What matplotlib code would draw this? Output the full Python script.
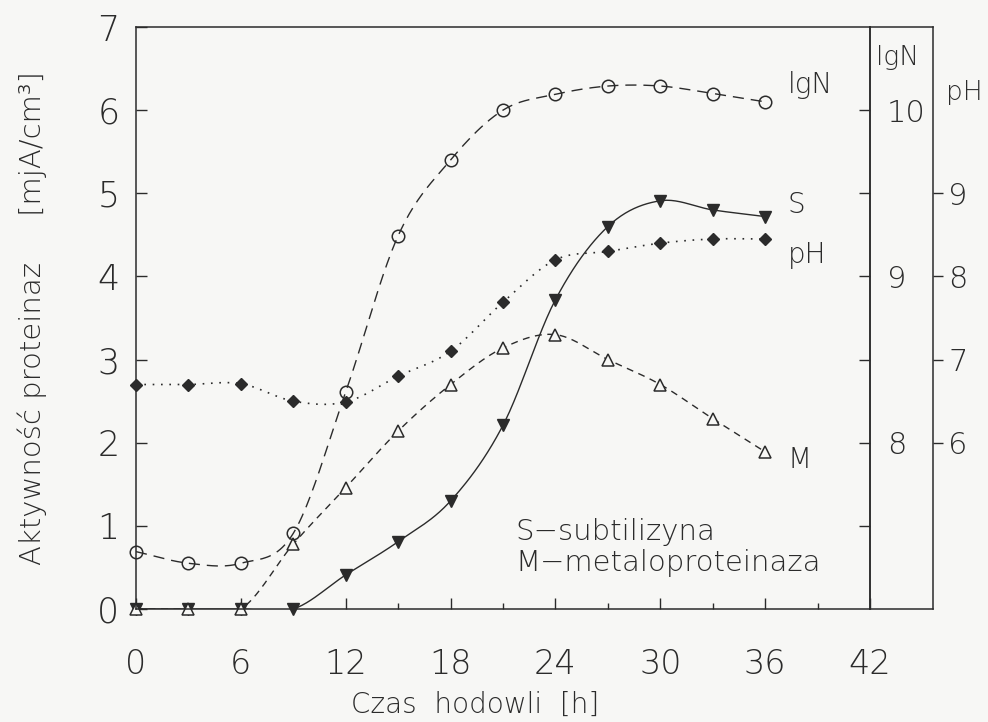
import numpy as np
import matplotlib
matplotlib.use("Agg")
import matplotlib.pyplot as plt
from matplotlib.ticker import MultipleLocator, FixedLocator

plt.rcParams["font.family"] = ["DejaVu Sans"]
plt.rcParams["font.weight"] = "light"
plt.rcParams["axes.labelweight"] = "light"

# czas hodowli [h]
hours = [0, 3, 6, 9, 12, 15, 18, 21, 24, 27, 30, 33, 36]
# aktywnosc proteinaz [mjA/cm3]
subtilizyna = [0, 0, 0, 0, 0.41, 0.81, 1.30, 2.21, 3.72, 4.60, 4.91, 4.80, 4.72]
metaloproteinaza = [0, 0, 0, 0.78, 1.46, 2.14, 2.70, 3.14, 3.30, 3.00, 2.70, 2.29, 1.89]
# lgN
lgN = [7.345, 7.275, 7.275, 7.455, 8.305, 9.245, 9.70, 10.0, 10.095, 10.145, 10.145, 10.1, 10.05]
# pH
pH = [6.70, 6.70, 6.71, 6.50, 6.49, 6.80, 7.10, 7.69, 8.20, 8.30, 8.40, 8.45, 8.45]

ink = "#2b2b2b"
bg = "#f7f7f5"


def smooth(x, y, n=24):
    # catmull-rom through the measured points, just for drawing the curve
    x = np.asarray(x, float)
    y = np.asarray(y, float)
    m = np.gradient(y, x)
    m[1:-1] = (y[2:] - y[:-2]) / (x[2:] - x[:-2])
    xs, ys = [], []
    for i in range(len(x) - 1):
        h = x[i + 1] - x[i]
        t = np.linspace(0, 1, n, endpoint=False)
        h00 = 2 * t**3 - 3 * t**2 + 1
        h10 = t**3 - 2 * t**2 + t
        h01 = -2 * t**3 + 3 * t**2
        h11 = t**3 - t**2
        xs.append(x[i] + t * h)
        ys.append(h00 * y[i] + h10 * h * m[i] + h01 * y[i + 1] + h11 * h * m[i + 1])
    xs.append([x[-1]])
    ys.append([y[-1]])
    return np.concatenate(xs), np.concatenate(ys)


fig = plt.figure(figsize=(9.88, 7.22), dpi=100, facecolor=bg)
ax = fig.add_axes([136 / 988, 1 - 609 / 722, 734 / 988, 582 / 722])
ax.set_facecolor("none")
ax_n = ax.twinx()
ax_ph = ax.twinx()

ax.set_xlim(0, 42)
ax.set_ylim(0, 7)
ax_n.set_ylim(7, 10.5)
ax_ph.set_ylim(4, 11)

lw = 1.0
ms = 8

# subtilizyna
sx, sy = smooth(hours, subtilizyna)
ax.plot(sx, sy, color=ink, lw=lw, ls="-")
ax.plot(hours, subtilizyna, ls="none", marker="v", ms=ms, color=ink, clip_on=False)

# metaloproteinaza
mx, my = smooth(hours, metaloproteinaza)
ax.plot(mx, my, color=ink, lw=lw, ls=(0, (5, 4)))
ax.plot(hours, metaloproteinaza, ls="none", marker="^", ms=ms, mfc=bg, mec=ink,
        mew=1.1, clip_on=False)

# lgN
nx, ny = smooth(hours, lgN)
ax_n.plot(nx, ny, color=ink, lw=lw, ls=(0, (8, 5)))
ax_n.plot(hours, lgN, ls="none", marker="o", ms=9, mfc="none", mec=ink, mew=1.1,
          clip_on=False)

# pH
px, py = smooth(hours, pH)
ax_ph.plot(px, py, color=ink, lw=1.2, ls=(0, (1, 4)))
ax_ph.plot(hours, pH, ls="none", marker="D", ms=6.5, color=ink, clip_on=False)

# axes styling
for a in (ax, ax_n, ax_ph):
    for s in a.spines.values():
        s.set_color(ink)
        s.set_linewidth(1.1)

ax.xaxis.set_major_locator(MultipleLocator(6))
ax.xaxis.set_minor_locator(MultipleLocator(3))
ax.yaxis.set_major_locator(MultipleLocator(1))
ax.tick_params(axis="x", which="major", direction="in", length=8, width=1,
               color=ink, labelsize=24, pad=28, labelcolor=ink)
ax.tick_params(axis="x", which="minor", direction="in", length=4, width=1, color=ink)
ax.tick_params(axis="y", direction="in", length=8, width=1, color=ink,
               labelsize=25, pad=12, labelcolor=ink)

ax_n.yaxis.set_major_locator(FixedLocator([7.5, 8, 8.5, 9, 9.5, 10]))
ax_n.set_yticklabels(["", "8", "", "9", "", "10"])
ax_n.tick_params(axis="y", direction="in", length=8, width=1, color=ink,
                 labelsize=22, pad=12, labelcolor=ink)
for s in ("left", "top", "bottom"):
    ax_n.spines[s].set_visible(False)

ax_ph.spines["right"].set_position(("axes", 797 / 734))
for s in ("left", "top", "bottom"):
    ax_ph.spines[s].set_visible(False)
ax_ph.yaxis.set_major_locator(FixedLocator([6, 7, 8, 9]))
ax_ph.tick_params(axis="y", direction="out", length=7, width=1, color=ink,
                  labelsize=22, pad=4, labelcolor=ink)

# box extension over the right axes
ext = 797 / 734
ax.plot([1, ext], [1, 1], transform=ax.transAxes, color=ink, lw=1.1, clip_on=False)
ax.plot([1, ext], [0, 0], transform=ax.transAxes, color=ink, lw=1.1, clip_on=False)

# labels
ax.set_ylabel("Aktywność proteinaz     [mjA/cm³]", fontsize=21, color=ink,
              labelpad=36, fontweight="light")
ax.yaxis.label.set_position((0, 0.5))
fig.text(475 / 988, 1 - 705 / 722, "Czas  hodowli  [h]", ha="center", va="center",
         fontsize=20, color=ink)
ax.text(1.038, 0.947, "lgN", transform=ax.transAxes, ha="center", va="center",
        fontsize=19, color=ink)
ax.text(1.129, 0.888, "pH", transform=ax.transAxes, ha="center", va="center",
        fontsize=19, color=ink)

ax.text(37.3, 6.30, "lgN", ha="left", va="center", fontsize=20, color=ink)
ax.text(37.3, 4.86, "S", ha="left", va="center", fontsize=20, color=ink)
ax.text(37.3, 4.26, "pH", ha="left", va="center", fontsize=20, color=ink)
ax.text(37.3, 1.79, "M", ha="left", va="center", fontsize=20, color=ink)
ax.text(21.7, 0.93, "S−subtilizyna", ha="left", va="center", fontsize=21, color=ink)
ax.text(21.7, 0.55, "M−metaloproteinaza", ha="left", va="center", fontsize=21, color=ink)

fig.savefig("out.png", dpi=100, facecolor=bg)
